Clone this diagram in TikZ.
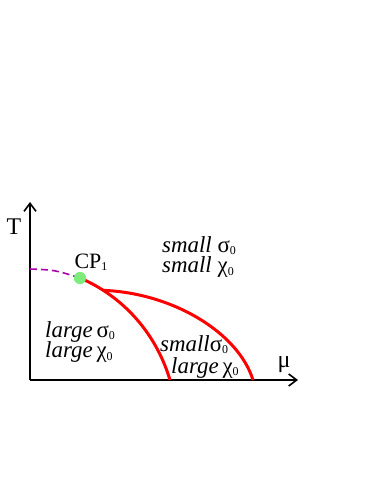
\documentclass[tikz,border=0pt]{standalone}
\usepackage{fontspec}
\setmainfont{Liberation Serif}
\usetikzlibrary{arrows.meta,positioning}
\definecolor{cpgreen}{RGB}{125,235,125}
\definecolor{crossover}{RGB}{170,0,170}
\newcommand\zsub[1]{\raisebox{-0.2ex}{\fontsize{12}{12}\selectfont #1}}
\tikzset{
axis/.style={line width=1.6bp,-{Straight Barb[length=8bp,width=12bp]}},
transition/.style={red,line width=3bp},
region/.style={inner sep=0pt,anchor=west,align=left,font=\fontsize{23}{21}\selectfont},
axislabel/.style={inner sep=0pt,font=\fontsize{24}{24}\selectfont}
}

\begin{document}
\begin{tikzpicture}[x=1bp,y=-1bp]
\useasboundingbox (0,0) rectangle (382,494);
\coordinate (o) at (30,380);
\coordinate (muend) at (298,380);
\coordinate (tend) at (30,202);
\coordinate (ax) at (30,269);
\coordinate (f1) at (170,380);
\coordinate (f2) at (253,380);
\node[circle,fill=cpgreen,inner sep=0pt,minimum size=12bp] (cp) at (80,278) {};
\draw[axis] (o)--(muend);
\draw[axis] (o)--(tend);
\node[axislabel] (T) at (14,227) {T};
\node[axislabel] (mu) at (284,365) {μ};
\draw[crossover,line width=1.6bp,dash pattern=on 7bp off 4bp] (ax) .. controls (55,270) .. (cp.center);
\draw[transition] (cp.center) .. controls (120,295) and (155,330) .. (f1) coordinate[pos=0.2] (junc);
\draw[transition] (junc) .. controls (172,293) and (238,332) .. (f2);
\node[circle,fill=cpgreen,inner sep=0pt,minimum size=12bp] at (cp) {};
\node[inner sep=0pt,font=\fontsize{22}{22}\selectfont] (cplabel) at (91,262) {CP\zsub{1}};
\node[region] (high) at (162,257) {\textit{small} σ\zsub{0}\\\textit{small} χ\zsub{0}};
\node[region] (low) at (45,342) {\textit{large}\,σ\zsub{0}\\\textit{large}\,χ\zsub{0}};
\node[region] (mid) at (160,345) {\textit{small}σ\zsub{0}};
\node[region] (midb) at (171,368) {\textit{large}\,χ\zsub{0}};
\end{tikzpicture}
\end{document}
